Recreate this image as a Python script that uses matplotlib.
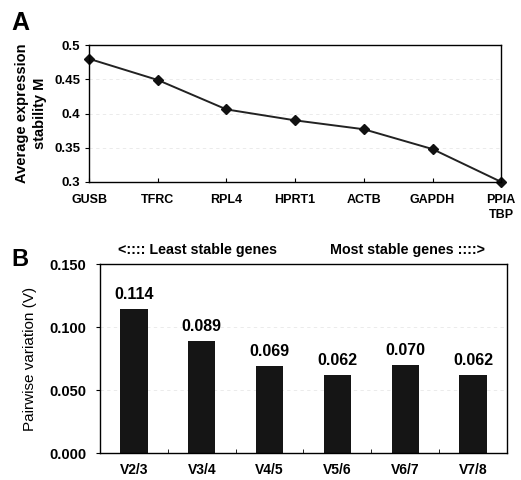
import numpy as np
import matplotlib

matplotlib.use("Agg")
import matplotlib.pyplot as plt

plt.rcParams["font.family"] = ["Liberation Sans", "DejaVu Sans"]

# geNorm output: average expression stability per elimination step
genes = ["GUSB", "TFRC", "RPL4", "HPRT1", "ACTB", "GAPDH", "PPIA\nTBP"]
stability_m = [0.480, 0.449, 0.406, 0.390, 0.377, 0.348, 0.300]

# pairwise variation between successive normalisation factors
pairs = ["V2/3", "V3/4", "V4/5", "V5/6", "V6/7", "V7/8"]
pairwise_v = [0.114, 0.089, 0.069, 0.062, 0.070, 0.062]


def main() -> None:
    fig = plt.figure(figsize=(5.21, 4.80), dpi=100)

    # ---- panel A: stability line
    ax_a = fig.add_axes([0.171, 0.621, 0.791, 0.285])
    x = np.arange(len(genes))
    ax_a.plot(x, stability_m, "-", color="#222222", lw=1.4,
              marker="D", ms=5, mfc="#111111", mec="#111111", clip_on=False)
    ax_a.set_xlim(0, len(genes) - 1)
    ax_a.set_ylim(0.3, 0.5)
    ax_a.set_yticks([0.3, 0.35, 0.4, 0.45, 0.5])
    ax_a.set_yticklabels(["0.3", "0.35", "0.4", "0.45", "0.5"])
    ax_a.set_xticks(x)
    ax_a.set_xticklabels(genes, va="top", linespacing=1.3)
    for yv in (0.35, 0.4, 0.45):
        ax_a.axhline(yv, color="#e8e8e8", lw=0.6, ls=(0, (4, 4)), zorder=0)
    ax_a.tick_params(axis="x", direction="in", length=3, pad=9,
                     labelsize=9)
    ax_a.tick_params(axis="y", direction="out", length=3, labelsize=9.5)
    for lab in ax_a.get_xticklabels() + ax_a.get_yticklabels():
        lab.set_fontweight("bold")
    ax_a.set_ylabel("Average expression\nstability M", fontsize=10.5,
                    fontweight="bold", labelpad=5, linespacing=1.35)
    for sp in ax_a.spines.values():
        sp.set_linewidth(1.0)
    fig.text(0.022, 0.952, "A", fontsize=18, fontweight="bold",
             ha="left", va="center")

    # ---- panel B: pairwise variation bars
    ax_b = fig.add_axes([0.192, 0.056, 0.781, 0.394])
    xb = np.arange(len(pairs))
    bars = ax_b.bar(xb, pairwise_v, width=0.4, color="#151515")
    for rect, v in zip(bars, pairwise_v):
        ax_b.text(rect.get_x() + rect.get_width() / 2, v + 0.0055,
                  f"{v:.3f}", ha="center", va="bottom",
                  fontsize=11.5, fontweight="bold")
    ax_b.set_xlim(-0.5, len(pairs) - 0.5)
    ax_b.set_ylim(0, 0.15)
    ax_b.set_yticks([0.0, 0.05, 0.10, 0.15])
    ax_b.set_yticklabels(["0.000", "0.050", "0.100", "0.150"])
    ax_b.set_xticks(xb)
    ax_b.set_xticklabels(pairs)
    ax_b.set_xticks(xb[:-1] + 0.5, minor=True)
    for yv in (0.05, 0.10):
        ax_b.axhline(yv, color="#e8e8e8", lw=0.6, ls=(0, (4, 4)), zorder=0)
    ax_b.tick_params(axis="x", which="major", length=0, pad=7,
                     labelsize=10)
    ax_b.tick_params(axis="x", which="minor", direction="in", length=3)
    ax_b.tick_params(axis="y", direction="out", length=3, labelsize=10.5,
                     pad=7)
    for lab in ax_b.get_xticklabels() + ax_b.get_yticklabels():
        lab.set_fontweight("bold")
    ax_b.set_ylabel("Pairwise variation (V)", fontsize=11, labelpad=9)
    for sp in ax_b.spines.values():
        sp.set_linewidth(1.0)
    fig.text(0.022, 0.460, "B", fontsize=17, fontweight="bold",
             ha="left", va="center")
    fig.text(0.227, 0.479, "<:::: Least stable genes", fontsize=10.3,
             fontweight="bold", ha="left", va="center")
    fig.text(0.633, 0.479, "Most stable genes ::::>", fontsize=10.3,
             fontweight="bold", ha="left", va="center")

    fig.savefig("out.png", dpi=100)
    plt.close(fig)


if __name__ == "__main__":
    main()
